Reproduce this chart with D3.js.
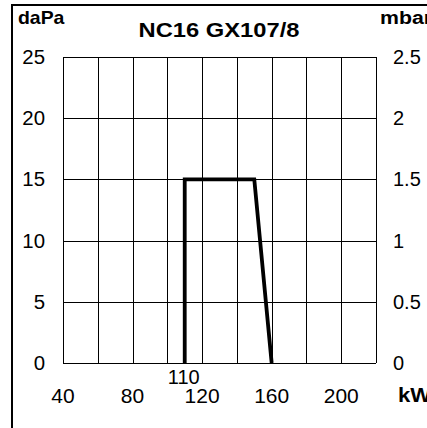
<!DOCTYPE html>
<html>
<head>
<meta charset="utf-8">
<script src="https://cdn.jsdelivr.net/npm/d3@7"></script>
<style>
    html, body { margin: 0; padding: 0; background: #fff; }
    svg { display: block; }
    text { font-family: "Liberation Sans", Arial, Helvetica, sans-serif; fill: #000; }
</style>
</head>
<body>
<svg id="chart" width="427" height="428"></svg>
<script>
// Chart data

const title = 'NC16 GX107/8';
const xTicks = [40, 80, 120, 160, 200];
const xGrid = [40, 60, 80, 100, 120, 140, 160, 180, 200, 220];
const yTicksDaPa = [0, 5, 10, 15, 20, 25];
const yTicksMbar = ['0', '0.5', '1', '1.5', '2', '2.5'];
const powerKW = [110, 110, 150, 160];
const pressureDaPa = [0, 15, 15, 0];
const markerKW = 110;

const W = 427, H = 428;
const svg = d3.select('#chart');

const x = d3.scaleLinear().domain([40, 220]).range([63, 376]);
const y = d3.scaleLinear().domain([0, 25]).range([363, 57]);

// text is a bit wider than tall in the reference, so stretch it horizontally
function label(txt, px, py, anchor, size, weight, sx) {
    return svg.append('text')
        .attr('transform', `translate(${px},${py}) scale(${sx},1)`)
        .attr('text-anchor', anchor)
        .style('font-size', size + 'px')
        .style('font-weight', weight)
        .text(txt);
}

// Outer frame (left and top edges only)
svg.append('line')
    .attr('x1', 12).attr('x2', 12).attr('y1', 4).attr('y2', H)
    .attr('stroke', '#000').attr('stroke-width', 2);
svg.append('line')
    .attr('x1', 11).attr('x2', W).attr('y1', 5).attr('y2', 5)
    .attr('stroke', '#000').attr('stroke-width', 2);

// Grid
const grid = svg.append('g').attr('stroke', '#000').attr('stroke-width', 1).attr('shape-rendering', 'crispEdges');
grid.selectAll('line.v')
    .data(xGrid)
    .join('line')
    .attr('class', 'v')
    .attr('x1', d => Math.round(x(d)) + 0.5).attr('x2', d => Math.round(x(d)) + 0.5)
    .attr('y1', y(25)).attr('y2', y(0));
grid.selectAll('line.h')
    .data(yTicksDaPa)
    .join('line')
    .attr('class', 'h')
    .attr('x1', x(40)).attr('x2', x(220))
    .attr('y1', d => Math.round(y(d)) + 0.5).attr('y2', d => Math.round(y(d)) + 0.5);

// Left axis labels (daPa)
yTicksDaPa.forEach(d => label(d, 45, y(d) + 7, 'end', 20, 'normal', 1.02));

// Right axis labels (mbar)
yTicksMbar.forEach((t, i) => label(t, 393, y(yTicksDaPa[i]) + 7, 'start', 20, 'normal', 1.0));

// Bottom axis labels (kW)
xTicks.forEach(d => label(d, x(d), 403, 'middle', 20, 'normal', 1.05));
label(markerKW, x(markerKW) - 1, 384, 'middle', 20, 'normal', 1.0);

// Unit labels and title (right-hand ones run off the edge like the original)
label('daPa', 18, 24, 'start', 18, 'bold', 1.08);
label('mbar', 380, 24, 'start', 18.5, 'bold', 1.15);
label('kW', 398, 402, 'start', 20.5, 'bold', 1.08);
label(title, 219, 37, 'middle', 21, 'bold', 1.13);

// Curve
const line = d3.line()
    .x(d => x(d[0]))
    .y(d => y(d[1]));

svg.append('path')
    .datum(d3.zip(powerKW, pressureDaPa))
    .attr('d', line)
    .attr('fill', 'none')
    .attr('stroke', '#000')
    .attr('stroke-width', 3.8)
    .attr('stroke-linejoin', 'miter');
</script>
</body>
</html>
